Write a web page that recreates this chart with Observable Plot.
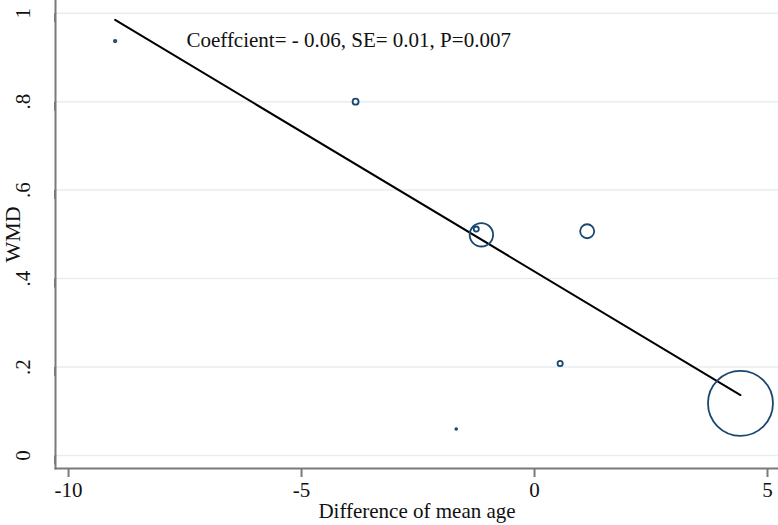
<!DOCTYPE html>
<html>
<head>
<meta charset="utf-8">
<script src="https://cdn.jsdelivr.net/npm/d3@7"></script>
<script src="https://cdn.jsdelivr.net/npm/@observablehq/plot@0.6"></script>
<style>
  html, body { margin: 0; padding: 0; background: #fff; }
  #chart svg { display: block; }
</style>
</head>
<body>
<div id="chart"></div>
<script>
// Study-level values (meta-regression bubble plot)
const ageDiff = [-9.0, -3.84, -1.25, -1.14, 1.13, 0.55, -1.68, 4.42];
const wmd     = [0.937, 0.80, 0.512, 0.499, 0.507, 0.208, 0.06, 0.118];
const weight  = [1.6, 9, 6.5, 137, 49, 6.8, 0.8, 1056];

// Fitted meta-regression line
const intercept = 0.416;
const slope = -0.0632;

const xTicks = [-10, -5, 0, 5];
const xTickLabels = ["-10", "-5", "0", "5"];
const yTicks = [0, 0.2, 0.4, 0.6, 0.8, 1];
const yTickLabels = ["0", ".2", ".4", ".6", ".8", "1"];

const xTitle = "Difference of mean age";
const yTitle = "WMD";
const annotation = "Coeffcient= - 0.06, SE= 0.01, P=0.007";

const studies = ageDiff.map((x, i) => ({x, y: wmd[i], w: weight[i]}));
const xr = d3.extent(ageDiff);
const fit = xr.map(x => ({x, y: intercept + slope * x}));

const font = "'Liberation Serif', 'Times New Roman', serif";
const axisColor = "#7a7a7a";

const chart = Plot.plot({
  width: 778,
  height: 525,
  marginLeft: 55,
  marginRight: 0,
  marginTop: 0,
  marginBottom: 57,
  style: {fontFamily: font, fontSize: "21px", color: "#111", background: "#fff"},
  x: {domain: [-10.28, 5.236]},
  y: {domain: [-0.0294, 1.0287]},
  r: {type: "sqrt", domain: [0, 1056], range: [0, 32.5]},
  marks: [
    Plot.gridY(yTicks, {stroke: "#e6eef1", strokeOpacity: 1, strokeWidth: 1.5}),
    Plot.line(fit, {x: "x", y: "y", stroke: "#000", strokeWidth: 2}),
    Plot.dot(studies, {x: "x", y: "y", r: "w", stroke: "#1a476f", strokeWidth: 1.8, fill: "none"}),
    Plot.text([annotation], {x: -7.47, y: 0.939, textAnchor: "start", lineAnchor: "middle", fontSize: 21, fill: "#111"}),
    Plot.frame({anchor: "left", stroke: axisColor, strokeWidth: 2}),
    Plot.frame({anchor: "bottom", stroke: axisColor, strokeWidth: 2}),
    Plot.axisX({ticks: xTicks, tickFormat: d => xTickLabels[xTicks.indexOf(d)], tickSize: 9, tickPadding: 5, stroke: axisColor, strokeWidth: 2, label: null, fontSize: 21}),
    Plot.axisY({ticks: yTicks, tickFormat: d => yTickLabels[yTicks.indexOf(d)], tickSize: 9, tickPadding: 23, rotate: -90, textAnchor: "middle", lineAnchor: "middle", stroke: axisColor, strokeWidth: 2, label: null, fontSize: 21}),
    Plot.text([xTitle], {frameAnchor: "bottom", dy: 43, textAnchor: "middle", lineAnchor: "middle", fontSize: 21}),
    Plot.text([yTitle], {frameAnchor: "left", dx: -43, rotate: -90, textAnchor: "middle", lineAnchor: "middle", fontSize: 22})
  ]
});
document.getElementById("chart").appendChild(chart);
</script>
</body>
</html>
